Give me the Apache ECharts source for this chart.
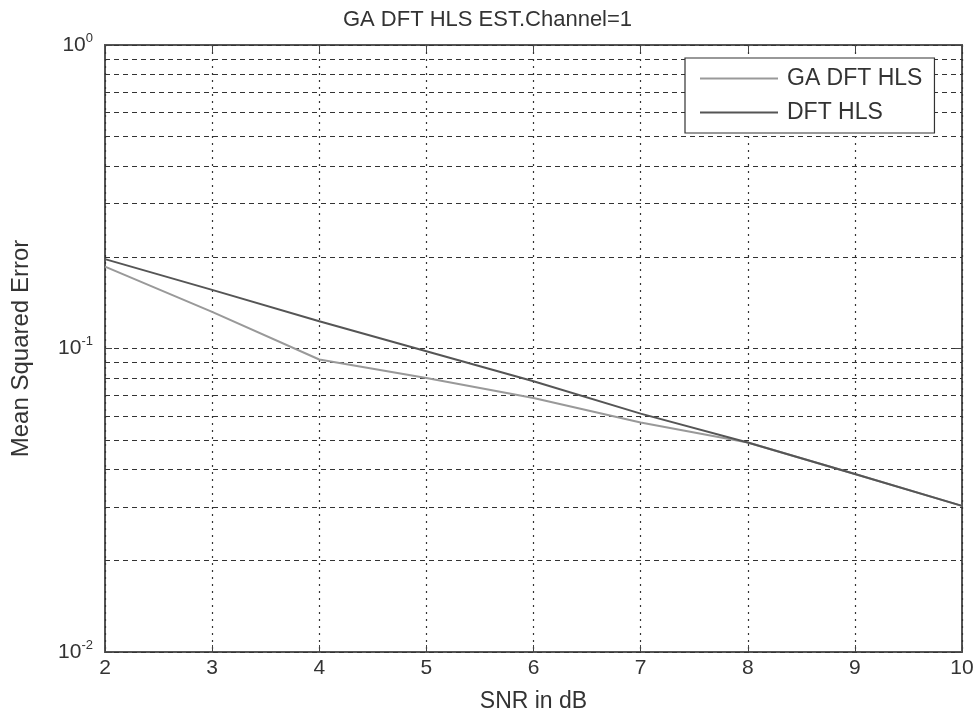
<!DOCTYPE html>
<html><head><meta charset="utf-8">
<script src="https://cdn.jsdelivr.net/npm/echarts@6/dist/echarts.min.js"></script>
<style>html,body{margin:0;padding:0;background:#fff}#c{width:975px;height:715px}</style>
</head><body><div id="c"></div>
<script>
const snr = [2, 3, 4, 5, 6, 7, 8, 9, 10];
const gaDftHls = [0.186, 0.132, 0.092, 0.080, 0.0687, 0.057, 0.049, 0.0386, 0.0303];
const dftHls = [0.197, 0.156, 0.123, 0.098, 0.078, 0.061, 0.049, 0.0386, 0.0303];
const minorGrid = [0.02,0.03,0.04,0.05,0.06,0.07,0.08,0.09,0.2,0.3,0.4,0.5,0.6,0.7,0.8,0.9];
const xTicks = [2, 3, 4, 5, 6, 7, 8, 9, 10];

const font = 'Liberation Sans, Arial, sans-serif';
const chart = echarts.init(document.getElementById('c'));
const gridStyle = {color: '#333', width: 1.2, type: [5, 4]};
chart.setOption({
  backgroundColor: '#fff',
  animation: false,
  title: {text: 'GA DFT HLS EST.Channel=1', left: 'center', top: 4,
    textStyle: {fontFamily: font, fontSize: 22, fontWeight: 'normal', color: '#333'}},
  grid: {left: 105, right: 13, top: 45, bottom: 63, show: true, borderColor: '#555', borderWidth: 2,
    containLabel: false, outerBoundsMode: 'none'},
  legend: {
    orient: 'vertical', left: 685, top: 58, z: 20,
    backgroundColor: '#fff', borderColor: '#333', borderWidth: 1.2,
    padding: [9, 12, 9, 15], itemGap: 11, itemWidth: 78, itemHeight: 2,
    icon: 'rect',
    textStyle: {fontFamily: font, fontSize: 23, color: '#333', padding: [0, 0, 0, 4]},
    data: ['GA DFT HLS', 'DFT HLS']
  },
  xAxis: [{
    type: 'value', min: 2, max: 10, interval: 1,
    name: 'SNR in dB', nameLocation: 'middle', nameGap: 38,
    nameTextStyle: {fontFamily: font, fontSize: 23, color: '#333'},
    axisLine: {show: false},
    axisTick: {show: true, inside: true, length: 7, lineStyle: {color: '#444'}},
    axisLabel: {fontFamily: font, fontSize: 21, color: '#333', margin: 6,
      formatter: v => xTicks.includes(v) ? String(v) : ''},
    splitLine: {show: true, lineStyle: {color: '#333', width: 1.2, type: [2, 5]}}
  }, {
    type: 'value', min: 2, max: 10, interval: 1, position: 'top',
    axisLine: {show: false}, axisLabel: {show: false}, splitLine: {show: false},
    axisTick: {show: true, inside: true, length: 7, lineStyle: {color: '#444'}}
  }],
  yAxis: [{
    type: 'log', logBase: 10, min: 0.01, max: 1,
    name: 'Mean Squared Error', nameLocation: 'middle', nameGap: 72, nameRotate: 90,
    nameTextStyle: {fontFamily: font, fontSize: 24, color: '#333'},
    axisLine: {show: false},
    axisTick: {show: true, inside: true, length: 7, lineStyle: {color: '#444'}},
    axisLabel: {
      fontFamily: font, color: '#333', margin: 12,
      formatter: v => {
        const e = Math.round(Math.log10(v));
        return '{b|10}{s|' + e + '}';
      },
      rich: {
        b: {fontFamily: font, fontSize: 21, color: '#333'},
        s: {fontFamily: font, fontSize: 13, color: '#333', padding: [0, 0, 14, 0]}
      }
    },
    splitLine: {show: true, lineStyle: gridStyle}
  }, {
    type: 'log', logBase: 10, min: 0.01, max: 1, position: 'right',
    axisLine: {show: false}, axisLabel: {show: false}, splitLine: {show: false},
    axisTick: {show: true, inside: true, length: 7, lineStyle: {color: '#444'}}
  }],
  series: [{
    name: 'GA DFT HLS', type: 'line', symbol: 'none', z: 3,
    data: snr.map((x, i) => [x, gaDftHls[i]]),
    lineStyle: {color: '#999', width: 2},
    itemStyle: {color: '#999'},
    markLine: {
      silent: true, symbol: 'none', label: {show: false}, animation: false, z: 1,
      lineStyle: gridStyle,
      data: minorGrid.map(v => ({yAxis: v}))
    }
  }, {
    name: 'DFT HLS', type: 'line', symbol: 'none', z: 4,
    data: snr.map((x, i) => [x, dftHls[i]]),
    lineStyle: {color: '#555', width: 2},
    itemStyle: {color: '#555'}
  }]
});
</script></body></html>
